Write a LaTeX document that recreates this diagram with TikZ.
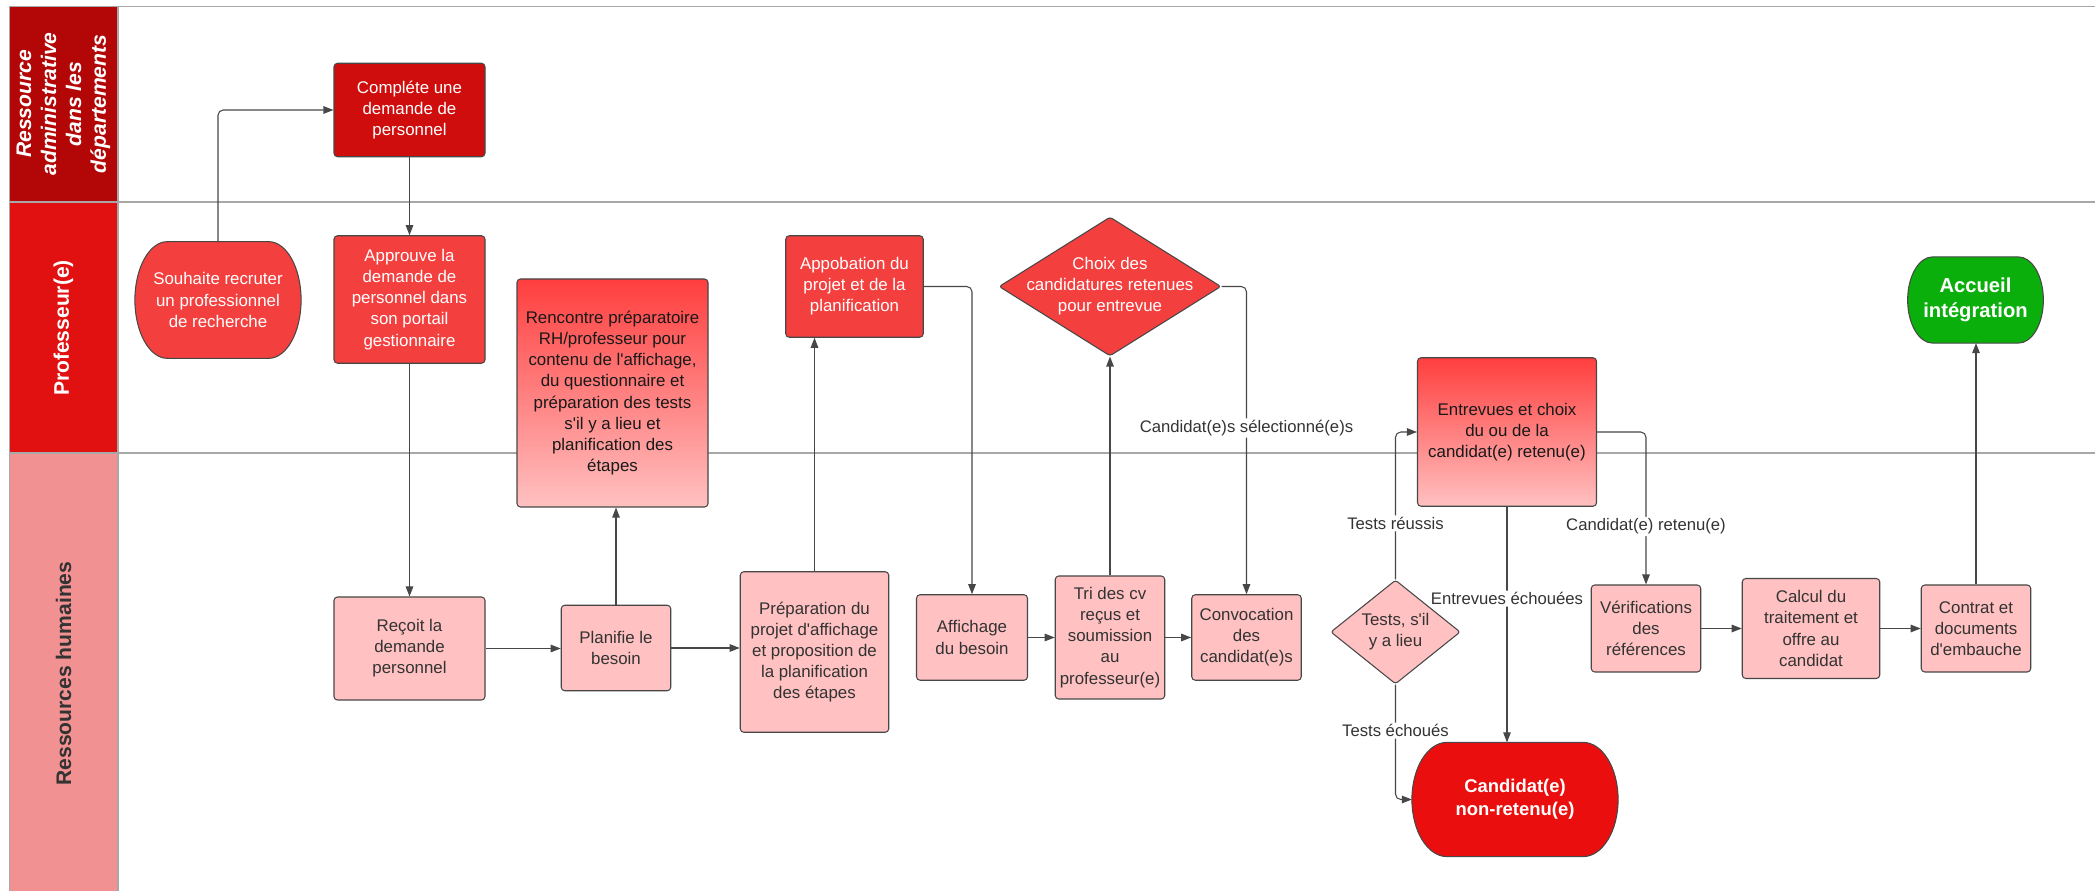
\documentclass[tikz,border=0pt]{standalone}
\usepackage{fontspec}
\defaultfontfeatures[\rmfamily]{}
\setmainfont{Liberation Sans}
\usetikzlibrary{arrows.meta,backgrounds,calc,positioning,shapes.geometric}

\definecolor{hdrA}{HTML}{B30707}
\definecolor{hdrB}{HTML}{E11111}
\definecolor{hdrC}{HTML}{F19191}
\definecolor{redDark}{HTML}{D00D0D}
\definecolor{redMid}{HTML}{F43F3F}
\definecolor{redTerm}{HTML}{EB0E0E}
\definecolor{pinkBox}{HTML}{FFC1C1}
\definecolor{gradTop}{HTML}{FF3E3E}
\definecolor{greenEnd}{HTML}{0BAF0B}
\definecolor{lineGray}{HTML}{474747}
\definecolor{laneGray}{HTML}{A8A8A8}
\definecolor{textGray}{HTML}{333333}

\tikzset{%
	process/.style   = {draw=lineGray, line width=0.6pt, rectangle, rounded corners=2pt, inner sep=1pt, align=center, font=\fontsize{9.6}{12}\selectfont},
	pinkbox/.style   = {process, fill=pinkBox, text=textGray},
	redbox/.style    = {process, fill=redMid, text=white},
	gradbox/.style   = {process, top color=gradTop, bottom color=pinkBox, text=black!90},
	decision/.style  = {draw=lineGray, line width=0.6pt, diamond, rounded corners=1.5pt, inner sep=0pt},
	terminal/.style  = {rectangle, inner sep=1pt, align=center, text=white, font=\bfseries\fontsize{10.5}{12.9}\selectfont},
	arrow/.style     = {draw=lineGray, line width=0.6pt, rounded corners=3pt, -{Triangle[length=2mm,width=1.5mm]}},
	edgelabel/.style = {fill=white, inner sep=1pt, text=textGray, font=\fontsize{9.5}{11}\selectfont},
	lanetitle/.style = {rotate=90, align=center, font=\bfseries\fontsize{12}{14.2}\selectfont},
	lane/.style      = {draw=laneGray, line width=0.8pt},
}

% barrel outline round a terminal node: node, end radius, colour
\newcommand{\termshape}[3]{%
	\path[fill=#3, draw=lineGray, line width=0.6pt]
		let \p1=(#1.north east), \p2=(#1.south west) in
		(\x2+#2,\y1) -- (\x1-#2,\y1)
		arc[start angle=90, end angle=-90, x radius=#2, y radius={0.5*(\y1-\y2)}]
		-- (\x2+#2,\y2)
		arc[start angle=270, end angle=90, x radius=#2, y radius={0.5*(\y1-\y2)}] -- cycle;
}

\begin{document}
\begin{tikzpicture}
	\useasboundingbox (0,0) rectangle (41.9,-17.82);
	
	% lanes
	\fill[hdrA] (0.19,-0.13) rectangle (2.36,-4.04);
	\fill[hdrB] (0.19,-4.04) rectangle (2.36,-9.06);
	\fill[hdrC] (0.19,-9.06) rectangle (2.36,-17.82);
	\foreach \y in {-0.13,-4.04,-9.06}
		\draw[lane] (0.19,\y) -- (41.9,\y);
	\draw[lane] (0.19,-0.13) -- (0.19,-17.82);
	\draw[lane] (2.36,-0.13) -- (2.36,-17.82);
	
	\node[lanetitle, text=white, font=\bfseries\itshape\fontsize{12}{14.2}\selectfont] (t-admin) at (1.27,-2.08) {Ressource\\administrative\\dans les\\départements};
	\node[lanetitle, text=white] (t-prof) at (1.27,-6.56) {Professeur(e)};
	\node[lanetitle, text=textGray] (t-rh) at (1.27,-13.47) {Ressources humaines};
	
	% admin lane
	\node[process, fill=redDark, text=white, minimum width=3.02cm, minimum height=1.87cm] (complete) at (8.19,-2.20) {Compléte une\\demande de\\personnel};
	
	% professeur lane
	\node[terminal, font=\fontsize{9.6}{12}\selectfont, minimum width=3.31cm, minimum height=2.32cm] (souhaite) at (4.36,-6.00) {Souhaite recruter\\un professionnel\\de recherche};
	\node[redbox, minimum width=3.02cm, minimum height=2.55cm] (approuve) at (8.19,-5.99) {Approuve la\\demande de\\personnel dans\\son portail\\gestionnaire};
	\node[gradbox, minimum width=3.82cm, minimum height=4.56cm] (rencontre) at (12.25,-7.86) {Rencontre préparatoire\\RH/professeur pour\\contenu de l'affichage,\\du questionnaire et\\préparation des tests\\s'il y a lieu et\\planification des\\étapes};
	\node[redbox, minimum width=2.75cm, minimum height=2.03cm] (appob) at (17.09,-5.73) {Appobation du\\projet et de la\\planification};
	\node[decision, fill=redMid, minimum width=4.44cm, minimum height=2.78cm,
		label={[text=white, align=center, font=\fontsize{9.6}{12}\selectfont]center:{Choix des\\candidatures retenues\\pour entrevue}}] (choix) at (22.2,-5.73) {};
	\node[gradbox, minimum width=3.58cm, minimum height=2.97cm] (entrevues) at (30.14,-8.64) {Entrevues et choix\\du ou de la\\candidat(e) retenu(e)};
	\node[terminal, font=\bfseries\fontsize{11.5}{14}\selectfont, minimum width=2.70cm, minimum height=1.71cm] (accueil) at (39.51,-6.00) {Accueil\\intégration};
	
	% RH lane
	\node[pinkbox, minimum width=3.02cm, minimum height=2.06cm] (recoit) at (8.19,-12.97) {Reçoit la\\demande\\personnel};
	\node[pinkbox, minimum width=2.19cm, minimum height=1.71cm] (planifie) at (12.32,-12.96) {Planifie le\\besoin};
	\node[pinkbox, minimum width=2.97cm, minimum height=3.21cm] (prep) at (16.29,-13.04) {Préparation du\\projet d'affichage\\et proposition de\\la planification\\des étapes};
	\node[pinkbox, minimum width=2.22cm, minimum height=1.71cm] (affichage) at (19.44,-12.75) {Affichage\\du besoin};
	\node[pinkbox, minimum width=2.19cm, minimum height=2.46cm] (tri) at (22.2,-12.75) {Tri des cv\\reçus et\\soumission\\au\\professeur(e)};
	\node[pinkbox, minimum width=2.19cm, minimum height=1.71cm] (convocation) at (24.93,-12.75) {Convocation\\des\\candidat(e)s};
	\node[decision, fill=pinkBox, minimum width=2.59cm, minimum height=2.08cm,
		label={[text=textGray, align=center, font=\fontsize{9.6}{12}\selectfont]center:{Tests, s'il\\y a lieu}}] (tests) at (27.91,-12.64) {};
	\node[pinkbox, minimum width=2.19cm, minimum height=1.74cm] (verif) at (32.92,-12.57) {Vérifications\\des\\références};
	\node[pinkbox, minimum width=2.75cm, minimum height=2.00cm] (calcul) at (36.22,-12.57) {Calcul du\\traitement et\\offre au\\candidat};
	\node[pinkbox, minimum width=2.19cm, minimum height=1.74cm] (contrat) at (39.52,-12.57) {Contrat et\\documents\\d'embauche};
	\node[terminal, minimum width=4.11cm, minimum height=2.27cm] (nonretenu) at (30.30,-15.99) {Candidat(e)\\non-retenu(e)};
	
	\begin{scope}[on background layer]
		\termshape{souhaite}{0.65cm}{redMid}
		\termshape{accueil}{0.5cm}{greenEnd}
		\termshape{nonretenu}{0.7cm}{redTerm}
	\end{scope}
	
	% connectors
	\draw[arrow] (souhaite.north) |- (complete.west);
	\draw[arrow] (complete) -- (approuve);
	\draw[arrow] (approuve) -- (recoit);
	\draw[arrow] (recoit.east) -- (recoit.east -| planifie.west);
	\draw[arrow] (planifie.north) -- (planifie.north |- rencontre.south);
	\draw[arrow] (planifie.east) -- (planifie.east -| prep.west);
	\draw[arrow] (prep.north) -- (prep.north |- appob.south);
	\draw[arrow] (appob.east) -| (affichage.north);
	\draw[arrow] (affichage.east) -- (affichage.east -| tri.west);
	\draw[arrow] (tri.north) -- (choix.south);
	\draw[arrow] (choix.east) -| node[edgelabel, pos=0.73] {Candidat(e)s sélectionné(e)s} (convocation.north);
	\draw[arrow] (tri.east) -- (tri.east -| convocation.west);
	\draw[arrow] (tests.north) |- node[edgelabel, pos=0.19] {Tests réussis} (entrevues.west);
	\draw[arrow] (tests.south) |- node[edgelabel, pos=0.2] {Tests échoués} (nonretenu.west);
	\draw[arrow] (entrevues.south) -- node[edgelabel, pos=0.39] {Entrevues échouées} (entrevues.south |- nonretenu.north);
	\draw[arrow] (entrevues.east) -| node[edgelabel, pos=0.81] {Candidat(e) retenu(e)} (verif.north);
	\draw[arrow] (verif.east) -- (verif.east -| calcul.west);
	\draw[arrow] (calcul.east) -- (calcul.east -| contrat.west);
	\draw[arrow] (contrat.north) -- (contrat.north |- accueil.south);
\end{tikzpicture}
\end{document}
